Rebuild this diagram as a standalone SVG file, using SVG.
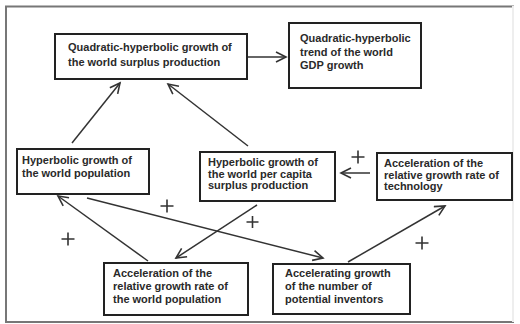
<svg xmlns="http://www.w3.org/2000/svg" width="520" height="324" viewBox="0 0 520 324">
<defs>
<style>
.box{fill:#fff;stroke:#222;stroke-width:2}
.t{font-family:"Liberation Sans",Arial,sans-serif;font-size:11px;font-weight:bold;fill:#2a2a2a}
.c{stroke:#333;stroke-width:1.5;fill:none}
.p{stroke:#333;stroke-width:1.6}
</style>
<marker id="ah" markerUnits="userSpaceOnUse" markerWidth="14" markerHeight="14" refX="11" refY="6" orient="auto">
<path d="M1,1 L11,6 L1,11" fill="none" stroke="#333" stroke-width="1.6"/>
</marker>
</defs>
<rect width="520" height="324" fill="#fff"/>
<rect x="6" y="6.5" width="507" height="315.5" fill="none" stroke="#777" stroke-width="2"/>
<line x1="513" y1="6" x2="513" y2="322" stroke="#eee" stroke-width="2"/>

<g id="connectors">
<line class="c" x1="247" y1="57" x2="286" y2="57" stroke-width="3" marker-end="url(#ah)"/>
<line class="c" x1="72" y1="143" x2="120" y2="83" marker-end="url(#ah)"/>
<line class="c" x1="248" y1="146" x2="168" y2="84" marker-end="url(#ah)"/>
<line class="c" x1="370" y1="173" x2="341" y2="173" marker-end="url(#ah)"/>
<line class="c" x1="348" y1="262" x2="445" y2="206" marker-end="url(#ah)"/>
<line class="c" x1="87" y1="198" x2="323" y2="258" marker-end="url(#ah)"/>
<line class="c" x1="148" y1="261" x2="58" y2="196" marker-end="url(#ah)"/>
<line class="c" x1="257" y1="205" x2="176" y2="258" marker-end="url(#ah)"/>
</g>

<g id="plus-signs">
<path class="p" d="M351.5,157 h13 M358,150.5 v13"/>
<path class="p" d="M160.5,206 h13 M167,199.5 v13"/>
<path class="p" d="M246.5,222 h12 M252.5,216 v12"/>
<path class="p" d="M61.5,239 h13 M68,232.5 v13"/>
<path class="p" d="M415.5,243 h13 M422,236.5 v13"/>
</g>

<g id="n1">
<rect class="box" x="55" y="34" width="192" height="45"/>
<text class="t"><tspan x="68" y="51">Quadratic-hyperbolic growth of</tspan><tspan x="68" y="66">the world surplus production</tspan></text>
</g>
<g id="n2">
<rect class="box" x="289" y="23" width="132" height="65"/>
<text class="t"><tspan x="300" y="42">Quadratic-hyperbolic</tspan><tspan x="300" y="55.5">trend of the world</tspan><tspan x="300" y="69">GDP growth</tspan></text>
</g>
<g id="n3">
<rect class="box" x="17" y="149" width="132" height="45"/>
<text class="t"><tspan x="22" y="164">Hyperbolic growth of</tspan><tspan x="22" y="177">the world population</tspan></text>
</g>
<g id="n4">
<rect class="box" x="200" y="152" width="135" height="49"/>
<text class="t"><tspan x="208" y="166">Hyperbolic growth of</tspan><tspan x="208" y="177.5">the world per capita</tspan><tspan x="208" y="189">surplus production</tspan></text>
</g>
<g id="n5">
<rect class="box" x="377" y="153" width="135" height="47"/>
<text class="t"><tspan x="384" y="167">Acceleration of the</tspan><tspan x="384" y="178.5">relative growth rate of</tspan><tspan x="384" y="190">technology</tspan></text>
</g>
<g id="n6">
<rect class="box" x="104" y="263" width="144" height="52"/>
<text class="t"><tspan x="113" y="277">Acceleration of the</tspan><tspan x="113" y="290">relative growth rate of</tspan><tspan x="113" y="303">the world population</tspan></text>
</g>
<g id="n7">
<rect class="box" x="273" y="264" width="137" height="50"/>
<text class="t"><tspan x="285" y="277">Accelerating growth</tspan><tspan x="285" y="290">of the number of</tspan><tspan x="285" y="303">potential inventors</tspan></text>
</g>
</svg>
